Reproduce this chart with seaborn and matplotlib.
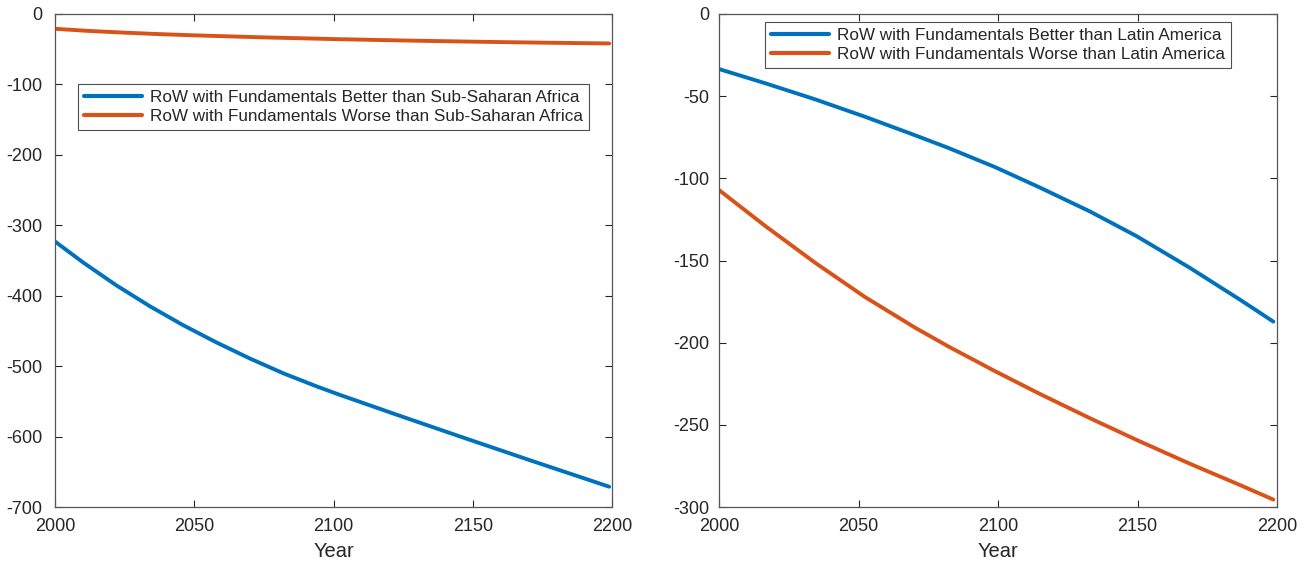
import matplotlib
matplotlib.use("Agg")
import matplotlib.pyplot as plt
import seaborn as sns
import pandas as pd

# Left panel: Sub-Saharan Africa
ssa_better_years = [2000, 2010, 2022, 2034, 2046, 2058, 2070, 2082, 2094, 2102,
                    2123, 2147, 2171, 2199]
ssa_better = [-323, -352.5, -385.2, -414.8, -441.8, -466.4, -489.2, -510.2,
              -528.8, -540.4, -569.4, -602.0, -634.2, -671.2]
ssa_worse_years = [2000, 2012, 2025, 2037, 2050, 2075, 2100, 2125, 2150, 2175, 2199]
ssa_worse = [-21, -24, -26.5, -28.5, -30.3, -33.2, -35.6, -37.6, -39.3, -40.7, -41.8]

# Right panel: Latin America
la_years = [2000, 2016.5, 2034.4, 2052.3, 2070.3, 2082.2, 2099, 2115, 2133,
            2149.7, 2168.8, 2186.7, 2198.7]
la_better = [-33.5, -42.1, -51.9, -62.5, -73.8, -81.5, -93.2, -105.6, -120.2,
             -135.2, -154.5, -173.8, -187.2]
la_worse = [-107.1, -128.9, -151.3, -172.2, -190.9, -202.3, -217.4, -231.2,
            -246.0, -259.2, -273.7, -286.6, -295.5]

label_ssa_b = "RoW with Fundamentals Better than Sub-Saharan Africa"
label_ssa_w = "RoW with Fundamentals Worse than Sub-Saharan Africa"
label_la_b = "RoW with Fundamentals Better than Latin America"
label_la_w = "RoW with Fundamentals Worse than Latin America"

left_yticks = [0, -100, -200, -300, -400, -500, -600, -700]
right_yticks = [0, -50, -100, -150, -200, -250, -300]
xticks = [2000, 2050, 2100, 2150, 2200]

sns.set_theme(style="white")
plt.rcParams['font.family'] = ['Liberation Sans', 'DejaVu Sans']

BLUE = "#0072BD"
ORANGE = "#D95319"
GRAY = "#262626"

fig = plt.figure(figsize=(13.1, 5.63), dpi=100)
ax1 = fig.add_axes([55/1310, 56/563, 557/1310, 493/563])
ax2 = fig.add_axes([719/1310, 56/563, 558/1310, 493/563])

df1 = pd.DataFrame({
    "Year": ssa_better_years + ssa_worse_years,
    "val": ssa_better + ssa_worse,
    "series": [label_ssa_b] * len(ssa_better) + [label_ssa_w] * len(ssa_worse),
})
df2 = pd.DataFrame({
    "Year": la_years * 2,
    "val": la_better + la_worse,
    "series": [label_la_b] * len(la_better) + [label_la_w] * len(la_worse),
})

sns.lineplot(data=df1, x="Year", y="val", hue="series",
             palette=[BLUE, ORANGE], linewidth=2.8, ax=ax1)
sns.lineplot(data=df2, x="Year", y="val", hue="series",
             palette=[BLUE, ORANGE], linewidth=2.8, ax=ax2)

for ax, yt, ylim, anchor, ypad in [
    (ax1, left_yticks, (-700, 0), (0.041, 0.858), 9),
    (ax2, right_yticks, (-300, 0), (0.082, 0.984), 7),
]:
    ax.set_xlim(2000, 2200)
    ax.set_ylim(*ylim)
    ax.set_xticks(xticks)
    ax.set_yticks(yt)
    ax.set_xticklabels([str(t) for t in xticks])
    ax.set_yticklabels([str(t) for t in yt])
    ax.set_xlabel("Year", fontsize=14.5, color=GRAY, labelpad=5)
    ax.set_ylabel("")
    ax.tick_params(axis='both', which='both', direction='in', length=5,
                   width=0.8, color=GRAY, labelcolor=GRAY, labelsize=13,
                   top=True, right=True, bottom=True, left=True)
    ax.tick_params(axis='x', pad=8)
    ax.tick_params(axis='y', pad=ypad)
    for sp in ax.spines.values():
        sp.set_visible(True)
        sp.set_color("#555555")
        sp.set_linewidth(0.9)
    leg = ax.legend(loc="upper left", bbox_to_anchor=anchor, fontsize=12.3,
                    frameon=True, fancybox=False, handlelength=3.4,
                    handletextpad=0.5, borderpad=0.35, labelspacing=0.25,
                    borderaxespad=0)
    leg.get_frame().set_edgecolor("#222222")
    leg.get_frame().set_linewidth(0.8)
    for t in leg.get_texts():
        t.set_color(GRAY)
    for l in leg.get_lines():
        l.set_linewidth(3)

fig.savefig("out.png", dpi=100)
